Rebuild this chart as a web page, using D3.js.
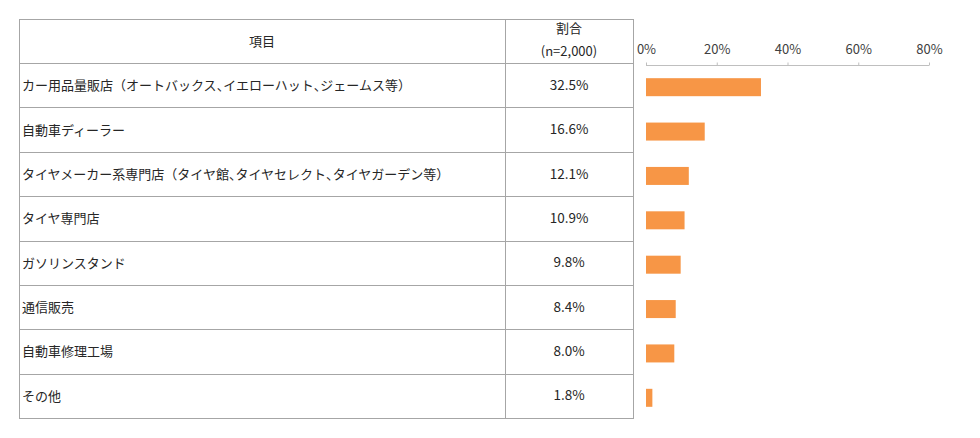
<!DOCTYPE html>
<html>
<head>
<meta charset="utf-8">
<script src="https://cdn.jsdelivr.net/npm/d3@7"></script>
<style>
  body { margin: 0; background: #fff; }
  text { font-family: "Noto Sans CJK JP", "Noto Sans", sans-serif; fill: #262626; }
  .narrow { font-feature-settings: "halt"; }
  .axis text { fill: #404040; font-size: 13px; }
  .axis path, .axis line { stroke: #bfbfbf; }
</style>
</head>
<body>
<svg width="980" height="438"></svg>
<script>
const categories = [
  "カー用品量販店（オートバックス、イエローハット、ジェームス等）",
  "自動車ディーラー",
  "タイヤメーカー系専門店（タイヤ館、タイヤセレクト、タイヤガーデン等）",
  "タイヤ専門店",
  "ガソリンスタンド",
  "通信販売",
  "自動車修理工場",
  "その他"
];
const shares = [32.5, 16.6, 12.1, 10.9, 9.8, 8.4, 8.0, 1.8];
const ticks = [0, 20, 40, 60, 80];
const headItem = "項目";
const headShare = ["割合", "(n=2,000)"];

const svg = d3.select("svg");
const tableLeft = 19, colSplit = 505, tableRight = 633;
const tableTop = 19, headBottom = 63, tableBottom = 418;

const y = d3.scaleBand().domain(categories).range([headBottom, tableBottom]);
const x = d3.scaleLinear().domain([0, 80]).range([646, 929]);

// table grid
const grid = svg.append("g").attr("stroke", "#a6a6a6").attr("fill", "none");
grid.append("rect").attr("x", tableLeft + 0.5).attr("y", tableTop + 0.5)
  .attr("width", tableRight - tableLeft).attr("height", tableBottom - tableTop);
grid.selectAll("line.row").data(categories).enter().append("line")
  .attr("x1", tableLeft).attr("x2", tableRight)
  .attr("y1", d => Math.round(y(d)) + 0.5).attr("y2", d => Math.round(y(d)) + 0.5);
grid.append("line").attr("x1", colSplit + 0.5).attr("x2", colSplit + 0.5)
  .attr("y1", tableTop).attr("y2", tableBottom);

// header
svg.append("text").attr("x", (tableLeft + colSplit) / 2).attr("y", 42)
  .attr("text-anchor", "middle").attr("dominant-baseline", "middle")
  .style("font-size", "13px").text(headItem);
svg.selectAll("text.hs").data(headShare).enter().append("text")
  .attr("x", (colSplit + tableRight) / 2).attr("y", (d, i) => 29 + i * 23)
  .attr("text-anchor", "middle").attr("dominant-baseline", "middle")
  .style("font-size", "13px").text(d => d);

// row labels (ideographic commas set half width) and values
svg.selectAll("text.cat").data(categories).enter().append("text")
  .attr("class", "cat")
  .attr("x", 22).attr("y", d => y(d) + y.bandwidth() / 2 + 1)
  .attr("dominant-baseline", "middle").style("font-size", "13px")
  .each(function(d) {
    const t = d3.select(this);
    d.split(/(、)/).filter(s => s).forEach(s => {
      t.append("tspan").attr("class", s === "、" ? "narrow" : null).text(s);
    });
  });
svg.selectAll("text.val").data(shares).enter().append("text")
  .attr("x", (colSplit + tableRight) / 2).attr("y", (d, i) => y(categories[i]) + y.bandwidth() / 2 + 1)
  .attr("text-anchor", "middle").attr("dominant-baseline", "middle")
  .style("font-size", "13.5px").text(d => d.toFixed(1) + "%");

// axis
svg.append("g").attr("class", "axis").attr("transform", "translate(0,65.5)")
  .call(d3.axisTop(x).tickValues(ticks).tickSize(3).tickSizeOuter(0).tickPadding(9).tickFormat(d => d + "%"))
  .call(g => g.select(".domain").attr("d", `M${x(0)},0H${x(80)}`));

// bars
svg.selectAll("rect.bar").data(shares).enter().append("rect")
  .attr("x", x(0)).attr("width", d => x(d) - x(0))
  .attr("y", (d, i) => y(categories[i]) + y.bandwidth() / 2 - 7)
  .attr("height", 18).attr("fill", "#f79646");
</script>
</body>
</html>
